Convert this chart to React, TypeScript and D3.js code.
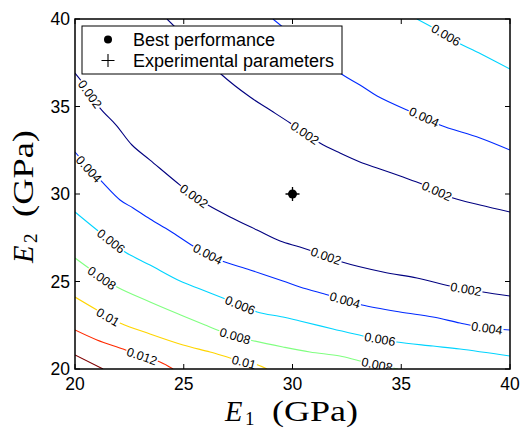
import React from "react";
import * as d3 from "d3";

type Pt = [number, number];

// ---------- data (E1, E2 in GPa) ----------
const xTicks = [20, 25, 30, 35, 40];
const yTicks = [20, 25, 30, 35, 40];
const levels = [0.002, 0.004, 0.006, 0.008, 0.01, 0.012, 0.014];

const contour002Lower: Pt[] = [
  [20.0, 36.91], [20.64, 35.89], [21.15, 34.91], [21.89, 33.94], [22.62, 32.8],
  [23.45, 31.94], [24.83, 30.51], [25.47, 29.89], [26.11, 29.37], [27.13, 28.69],
  [28.37, 27.94], [29.43, 27.31], [30.34, 26.97], [31.54, 26.46], [32.28, 26.11],
  [34.16, 25.54], [35.72, 25.2], [37.24, 24.74], [37.98, 24.57], [38.76, 24.4], [40.0, 24.17],
];
const contour002Upper: Pt[] = [
  [24.23, 40.0], [25.52, 38.4], [26.76, 36.8], [28.05, 35.54], [28.83, 34.91],
  [29.89, 34.06], [30.57, 33.49], [31.26, 32.91], [32.18, 32.34], [33.1, 31.83],
  [34.02, 31.43], [35.08, 30.97], [35.95, 30.57], [36.64, 30.17], [37.38, 29.77],
  [38.62, 29.37], [40.0, 28.97],
];
const contour004Lower: Pt[] = [
  [20.0, 32.4], [20.64, 31.49], [21.29, 30.63], [22.07, 29.66], [22.67, 29.2],
  [23.45, 28.57], [24.37, 27.89], [25.43, 27.03], [26.11, 26.57], [26.76, 26.17],
  [28.05, 25.66], [29.56, 25.03], [30.34, 24.69], [31.63, 24.23], [32.41, 23.94],
  [33.2, 23.66], [34.94, 23.26], [36.46, 22.97], [37.7, 22.63], [38.94, 22.34], [40.0, 22.23],
];
const contour004Upper: Pt[] = [
  [29.1, 40.0], [30.34, 38.74], [31.26, 37.77], [32.32, 36.8], [33.1, 36.23],
  [33.89, 35.6], [35.26, 34.8], [36.05, 34.4], [36.78, 33.94], [38.62, 33.2], [40.0, 32.51],
];
const contour006Lower: Pt[] = [
  [20.0, 28.97], [21.01, 27.94], [21.66, 27.31], [22.3, 26.69], [23.45, 25.94],
  [24.83, 25.03], [25.75, 24.57], [26.8, 24.06], [27.59, 23.66], [28.37, 23.26],
  [29.56, 22.97], [30.34, 22.74], [31.86, 22.29], [33.24, 21.89], [34.02, 21.71],
  [34.8, 21.54], [36.46, 21.31], [37.7, 21.14], [40.0, 20.74],
];
const contour006Upper: Pt[] = [
  [35.72, 40.0], [37.06, 39.09], [37.56, 38.69], [38.76, 37.94], [40.0, 37.14],
];
const contour008: Pt[] = [
  [20.0, 26.34], [21.15, 25.31], [21.93, 24.69], [23.45, 23.83], [24.97, 23.03],
  [25.98, 22.51], [26.67, 22.17], [27.36, 21.89], [28.05, 21.66], [29.56, 21.26],
  [30.8, 20.97], [32.18, 20.74], [33.1, 20.46], [33.89, 20.29], [34.62, 20.06], [34.85, 20.0],
];
const contour010: Pt[] = [
  [20.0, 24.11], [21.01, 23.37], [22.07, 22.63], [23.45, 22.0], [24.97, 21.37],
  [26.21, 20.97], [27.13, 20.63], [27.82, 20.4], [28.41, 20.23], [28.83, 20.0],
];
const contour012: Pt[] = [
  [20.0, 22.23], [21.01, 21.66], [22.21, 21.14], [23.08, 20.74], [23.91, 20.4], [24.51, 20.0],
];
const contour014: Pt[] = [
  [20.0, 20.8], [21.29, 20.0],
];

// label anchor positions on each contour
const labels002Lower: Pt[] = [[20.69, 35.71], [25.47, 29.89], [31.54, 26.46], [37.98, 24.57]];
const labels002Upper: Pt[] = [[30.57, 33.49], [36.64, 30.17]];
const labels004Lower: Pt[] = [[20.64, 31.43], [26.11, 26.57], [32.41, 23.94], [38.94, 22.34]];
const labels004Upper: Pt[] = [[36.05, 34.4]];
const labels006Lower: Pt[] = [[21.66, 27.31], [27.59, 23.66], [34.02, 21.71]];
const labels006Upper: Pt[] = [[37.06, 39.09]];
const labels008: Pt[] = [[21.24, 25.2], [27.36, 21.89], [33.89, 20.25]];
const labels010: Pt[] = [[21.52, 22.97], [27.77, 20.4]];
const labels012: Pt[] = [[23.08, 20.74]];
const labels014: Pt[] = [];

const bestPoint: Pt = [30, 30];
const experimentalPoint: Pt = [30, 30];
const legendLabels = ["Best performance", "Experimental parameters"];

// ---------- layout ----------
const W = 523;
const H = 428;
const PL = 75, PR = 510, PT = 19, PB = 369;
const SANS = "'Liberation Sans', Arial, Helvetica, sans-serif";
const SERIF = "'Liberation Serif', 'Times New Roman', Times, serif";

function jet(t: number): string {
  const c = (v: number) => Math.max(0, Math.min(1, v));
  const r = c(Math.min(4 * t - 1.5, -4 * t + 4.5));
  const g = c(Math.min(4 * t - 0.5, -4 * t + 3.5));
  const b = c(Math.min(4 * t + 0.5, -4 * t + 2.5));
  return d3.rgb(r * 255, g * 255, b * 255).formatHex();
}

export default function App() {
  const x = d3.scaleLinear().domain([20, 40]).range([PL, PR]);
  const y = d3.scaleLinear().domain([20, 40]).range([PB, PT]);
  const color = (lv: number) =>
    jet((lv - levels[0]) / (levels[levels.length - 1] - levels[0]));

  const sets = [
    { level: levels[0], points: contour002Lower, labelsAt: labels002Lower },
    { level: levels[0], points: contour002Upper, labelsAt: labels002Upper },
    { level: levels[1], points: contour004Lower, labelsAt: labels004Lower },
    { level: levels[1], points: contour004Upper, labelsAt: labels004Upper },
    { level: levels[2], points: contour006Lower, labelsAt: labels006Lower },
    { level: levels[2], points: contour006Upper, labelsAt: labels006Upper },
    { level: levels[3], points: contour008, labelsAt: labels008 },
    { level: levels[4], points: contour010, labelsAt: labels010 },
    { level: levels[5], points: contour012, labelsAt: labels012 },
    { level: levels[6], points: contour014, labelsAt: labels014 },
  ];

  const line = d3
    .line<Pt>()
    .x((d) => x(d[0]))
    .y((d) => y(d[1]))
    .curve(d3.curveCatmullRom.alpha(0.5));

  const labelFs = 12.5;
  const textW = (s: string) =>
    s.split("").reduce((a, ch) => a + (ch === "." ? 0.278 : 0.556), 0) * labelFs;

  const labelItems: { cx: number; cy: number; ang: number; text: string; key: string }[] = [];
  sets.forEach((s, si) => {
    const px = s.points.map((p) => [x(p[0]), y(p[1])]);
    s.labelsAt.forEach((l, li) => {
      const lx = x(l[0]), ly = y(l[1]);
      let best = 0, bd = Infinity;
      px.forEach((p, i) => {
        const d = (p[0] - lx) ** 2 + (p[1] - ly) ** 2;
        if (d < bd) { bd = d; best = i; }
      });
      const a = px[Math.max(0, best - 1)];
      const b = px[Math.min(px.length - 1, best + 1)];
      const ang = (Math.atan2(b[1] - a[1], b[0] - a[0]) * 180) / Math.PI;
      labelItems.push({ cx: lx, cy: ly, ang, text: String(s.level), key: `${si}-${li}` });
    });
  });

  const tickLen = 5;

  return (
    <svg
      width={W}
      height={H}
      style={{ position: "absolute", left: 0, top: 0, background: "#fff" }}
    >
      <defs>
        <clipPath id="plotClip">
          <rect x={PL} y={PT} width={PR - PL} height={PB - PT} />
        </clipPath>
      </defs>
      <rect x={0} y={0} width={W} height={H} fill="#fff" />

      <g clipPath="url(#plotClip)">
        {sets.map((s, i) => (
          <path
            key={i}
            d={line(s.points) || ""}
            fill="none"
            stroke={color(s.level)}
            strokeWidth={1.1}
          />
        ))}
        {labelItems.map((l) => (
          <g key={l.key} transform={`translate(${l.cx},${l.cy}) rotate(${l.ang})`}>
            <rect
              x={-textW(l.text) / 2 - 1}
              y={-5}
              width={textW(l.text) + 2}
              height={10}
              fill="#fff"
            />
            <text
              x={0}
              y={0}
              dy="0.36em"
              textAnchor="middle"
              fontFamily={SANS}
              fontSize={labelFs}
              fill="#000"
            >
              {l.text}
            </text>
          </g>
        ))}
      </g>

      {/* best performance + experimental parameters */}
      <circle cx={x(bestPoint[0])} cy={y(bestPoint[1])} r={4.5} fill="#000" />
      <path
        d={`M${x(experimentalPoint[0]) - 7},${y(experimentalPoint[1])}h14M${x(experimentalPoint[0])},${y(experimentalPoint[1]) - 7}v14`}
        stroke="#000"
        strokeWidth={1.3}
      />

      {/* legend */}
      <rect x={82} y={26} width={260} height={48} fill="#fff" stroke="#000" strokeWidth={1} />
      <circle cx={108} cy={39.5} r={4} fill="#000" />
      <text x={133} y={46} fontFamily={SANS} fontSize={18} fill="#000">
        {legendLabels[0]}
      </text>
      <path d="M101.5,60.5h13M108,54v13" stroke="#000" strokeWidth={1.1} />
      <text x={133} y={67} fontFamily={SANS} fontSize={18} fill="#000">
        {legendLabels[1]}
      </text>

      {/* axes frame and ticks */}
      <rect
        x={PL}
        y={PT}
        width={PR - PL}
        height={PB - PT}
        fill="none"
        stroke="#000"
        strokeWidth={1.5}
      />
      {xTicks.map((t) => (
        <g key={`xt${t}`}>
          <line x1={x(t)} x2={x(t)} y1={PB} y2={PB - tickLen} stroke="#000" strokeWidth={1} />
          <line x1={x(t)} x2={x(t)} y1={PT} y2={PT + tickLen} stroke="#000" strokeWidth={1} />
          <text
            x={x(t)}
            y={390}
            textAnchor="middle"
            fontFamily={SANS}
            fontSize={17.5}
            fill="#000"
          >
            {t}
          </text>
        </g>
      ))}
      {yTicks.map((t) => (
        <g key={`yt${t}`}>
          <line x1={PL} x2={PL + tickLen} y1={y(t)} y2={y(t)} stroke="#000" strokeWidth={1} />
          <line x1={PR} x2={PR - tickLen} y1={y(t)} y2={y(t)} stroke="#000" strokeWidth={1} />
          <text
            x={70}
            y={y(t)}
            dy="0.36em"
            textAnchor="end"
            fontFamily={SANS}
            fontSize={17.5}
            fill="#000"
          >
            {t}
          </text>
        </g>
      ))}

      {/* axis titles */}
      <g transform="translate(225,421)">
        <text x={0} y={0} fontFamily={SERIF} fontStyle="italic" fontSize={28.5} fill="#000">
          E
        </text>
        <text x={20} y={4} fontFamily={SERIF} fontSize={19} fill="#000">
          1
        </text>
        <text
          x={47}
          y={0}
          fontFamily={SERIF}
          fontSize={28.5}
          fill="#000"
          textLength={86}
          lengthAdjust="spacingAndGlyphs"
        >
          (GPa)
        </text>
      </g>
      <g transform="translate(33,263) rotate(-90)">
        <text x={0} y={0} fontFamily={SERIF} fontStyle="italic" fontSize={28.5} fill="#000">
          E
        </text>
        <text x={20} y={4} fontFamily={SERIF} fontSize={19} fill="#000">
          2
        </text>
        <text
          x={46}
          y={0}
          fontFamily={SERIF}
          fontSize={28.5}
          fill="#000"
          textLength={87}
          lengthAdjust="spacingAndGlyphs"
        >
          (GPa)
        </text>
      </g>
    </svg>
  );
}
